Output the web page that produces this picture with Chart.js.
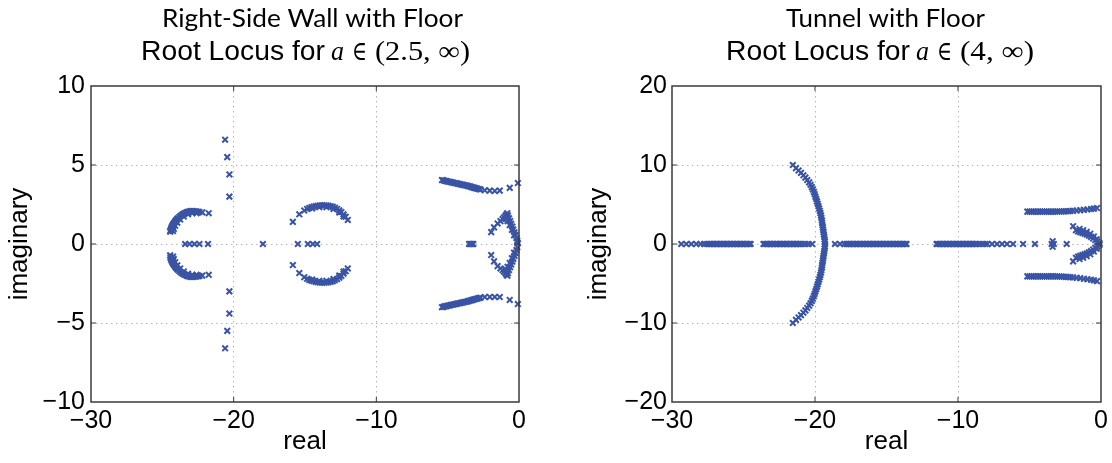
<!DOCTYPE html>
<html>
<head>
<meta charset="utf-8">
<script src="https://cdn.jsdelivr.net/npm/chart.js@4/dist/chart.umd.min.js"></script>
<style>
  html, body { margin: 0; padding: 0; background: #fff; }
  #wrap { position: relative; width: 1112px; height: 463px; }
  .panel { position: absolute; top: 0; width: 556px; height: 463px; }
</style>
</head>
<body>
<div id="wrap">
  <div class="panel" style="left:0"><canvas id="wall-chart" width="556" height="463"></canvas></div>
  <div class="panel" style="left:556px"><canvas id="tunnel-chart" width="556" height="463"></canvas></div>
</div>
<script>
/* ---- Right-Side Wall with Floor ---- */
// roots lying on the real axis (imaginary part 0)
const wallRealRoots = [
  -23.4, -23.1, -22.75, -22.4, -21.8, -17.95,
  -15.5, -14.8, -14.45, -14.15,
  -3.5, -3.42, -3.35, -3.28, -3.2
];
// complex roots [real, imaginary]
const wallOuterArc = [
  [-21.75, 1.95], [-22.2, 2.0], [-22.4, 2.03], [-22.5, 2.04], [-22.6, 2.05], [-22.7, 2.06],
  [-22.8, 2.07], [-22.9, 2.08], [-23.0, 2.08], [-23.1, 2.06], [-23.2, 2.04], [-23.3, 2.0],
  [-23.4, 1.96], [-23.5, 1.91], [-23.6, 1.86], [-23.7, 1.79], [-23.8, 1.72], [-23.9, 1.63],
  [-23.95, 1.58], [-24.0, 1.53], [-24.05, 1.48], [-24.1, 1.42], [-24.15, 1.36], [-24.2, 1.3],
  [-24.25, 1.23], [-24.28, 1.17], [-24.32, 1.1], [-24.35, 1.03], [-24.38, 0.96], [-24.4, 0.9],
  [-24.43, 0.84], [-24.45, 0.78],
  [-22.6, 1.95], [-22.9, 1.95], [-23.2, 1.88], [-23.5, 1.74], [-23.75, 1.55], [-23.95, 1.35],
  [-24.1, 1.15], [-24.2, 0.95], [-24.25, 0.82],
  [-21.75, -1.95], [-22.2, -2.0], [-22.4, -2.03], [-22.5, -2.04], [-22.6, -2.05], [-22.7, -2.06],
  [-22.8, -2.07], [-22.9, -2.08], [-23.0, -2.08], [-23.1, -2.06], [-23.2, -2.04], [-23.3, -2.0],
  [-23.4, -1.96], [-23.5, -1.91], [-23.6, -1.86], [-23.7, -1.79], [-23.8, -1.72], [-23.9, -1.63],
  [-23.95, -1.58], [-24.0, -1.53], [-24.05, -1.48], [-24.1, -1.42], [-24.15, -1.36], [-24.2, -1.3],
  [-24.25, -1.23], [-24.28, -1.17], [-24.32, -1.1], [-24.35, -1.03], [-24.38, -0.96], [-24.4, -0.9],
  [-24.43, -0.84], [-24.45, -0.72],
  [-22.6, -1.95], [-22.9, -1.95], [-23.2, -1.88], [-23.5, -1.74], [-23.75, -1.55], [-23.95, -1.35],
  [-24.1, -1.15], [-24.2, -0.95], [-24.25, -0.8]
];
const wallColumn = [
  [-20.6, 6.6], [-20.45, 5.5], [-20.3, 4.4], [-20.3, 3.0],
  [-20.3, -3.0], [-20.3, -4.4], [-20.45, -5.5], [-20.6, -6.6]
];
const wallMiddleArc = [
  [-15.85, 1.4], [-15.4, 1.88], [-15.05, 2.12], [-14.85, 2.22], [-14.7, 2.28], [-14.55, 2.33],
  [-14.4, 2.37], [-14.25, 2.4], [-14.1, 2.42], [-13.95, 2.44], [-13.8, 2.45], [-13.65, 2.45],
  [-13.5, 2.44], [-13.35, 2.42], [-13.2, 2.39], [-13.05, 2.35], [-12.9, 2.29], [-12.75, 2.22],
  [-12.6, 2.13], [-12.45, 2.02], [-12.3, 1.88], [-12.15, 1.72], [-12.0, 1.52],
  [-14.5, 2.25], [-14.0, 2.33], [-13.5, 2.33], [-13.0, 2.22], [-12.6, 2.0], [-12.3, 1.75],
  [-15.85, -1.33], [-15.4, -1.84], [-15.05, -2.1], [-14.85, -2.2], [-14.7, -2.27], [-14.55, -2.32],
  [-14.4, -2.36], [-14.25, -2.4], [-14.1, -2.42], [-13.95, -2.44], [-13.8, -2.45], [-13.65, -2.45],
  [-13.5, -2.44], [-13.35, -2.42], [-13.2, -2.39], [-13.05, -2.35], [-12.9, -2.29], [-12.75, -2.22],
  [-12.6, -2.13], [-12.45, -2.02], [-12.3, -1.88], [-12.15, -1.72], [-12.0, -1.55],
  [-14.5, -2.25], [-14.0, -2.33], [-13.5, -2.33], [-13.0, -2.22], [-12.6, -2.0], [-12.3, -1.75]
];
const wallRightLines = [
  [-5.4, 4.05], [-5.3, 4.03], [-5.2, 4.0], [-5.1, 3.98], [-5.0, 3.96], [-4.9, 3.94], [-4.8, 3.92],
  [-4.7, 3.9], [-4.6, 3.88], [-4.5, 3.86], [-4.4, 3.84], [-4.3, 3.82], [-4.2, 3.8], [-4.1, 3.78],
  [-4.0, 3.76], [-3.9, 3.74], [-3.8, 3.72], [-3.7, 3.7], [-3.6, 3.68], [-3.5, 3.65], [-3.4, 3.63],
  [-3.3, 3.6], [-3.2, 3.57], [-3.1, 3.55], [-3.0, 3.52], [-2.9, 3.5], [-2.8, 3.47], [-2.7, 3.45],
  [-2.4, 3.4], [-2.05, 3.38], [-1.7, 3.36], [-1.35, 3.38], [-0.65, 3.55], [-0.08, 3.86],
  [-5.4, -4.0], [-5.3, -3.98], [-5.2, -3.95], [-5.1, -3.93], [-5.0, -3.91], [-4.9, -3.89], [-4.8, -3.87],
  [-4.7, -3.85], [-4.6, -3.83], [-4.5, -3.81], [-4.4, -3.79], [-4.3, -3.77], [-4.2, -3.75], [-4.1, -3.73],
  [-4.0, -3.71], [-3.9, -3.69], [-3.8, -3.67], [-3.7, -3.65], [-3.6, -3.63], [-3.5, -3.6], [-3.4, -3.58],
  [-3.3, -3.55], [-3.2, -3.52], [-3.1, -3.5], [-3.0, -3.47], [-2.9, -3.45], [-2.8, -3.42], [-2.7, -3.4],
  [-2.4, -3.36], [-2.05, -3.35], [-1.7, -3.35], [-1.35, -3.36], [-0.65, -3.54], [-0.08, -3.8]
];
const wallRightV = [
  [-1.95, 0.75], [-1.75, 1.05], [-1.5, 1.3], [-1.3, 1.45], [-1.15, 1.58], [-1.05, 1.68],
  [-0.95, 1.78], [-0.88, 1.88], [-0.82, 1.95], [-0.78, 1.8], [-0.7, 1.62], [-0.62, 1.45],
  [-0.55, 1.28], [-0.47, 1.1], [-0.4, 0.92], [-0.32, 0.74], [-0.25, 0.56], [-0.18, 0.38],
  [-0.12, 0.2], [-0.07, 0.05], [-0.95, 1.6], [-0.8, 1.45], [-0.65, 1.2], [-0.5, 0.9], [-0.35, 0.55],
  [-1.95, -0.7], [-1.75, -1.1], [-1.5, -1.4], [-1.3, -1.55], [-1.15, -1.65], [-1.05, -1.75],
  [-0.95, -1.85], [-0.88, -1.95], [-0.82, -2.0], [-0.78, -1.85], [-0.7, -1.65], [-0.62, -1.47],
  [-0.55, -1.3], [-0.47, -1.12], [-0.4, -0.94], [-0.32, -0.75], [-0.25, -0.57], [-0.18, -0.38],
  [-0.12, -0.2], [-0.95, -1.6], [-0.8, -1.45], [-0.65, -1.2], [-0.5, -0.9], [-0.35, -0.55]
];

/* ---- Tunnel with Floor ---- */
const tunnelRealRoots = [
  -29.35, -29.0, -28.65, -28.3, -28.0, -27.75, -27.55, -27.4, -27.3, -27.2, -27.1, -27.0, -26.9,
  -26.8, -26.7, -26.6, -26.5, -26.4, -26.3, -26.2, -26.1, -26.0, -25.9, -25.8, -25.7, -25.6,
  -25.5, -25.4, -25.3, -25.2, -25.1, -25.0, -24.9, -24.8, -24.7, -24.6, -24.5,
  -23.6, -23.5, -23.4, -23.3, -23.2, -23.1, -23.0, -22.9, -22.8, -22.7, -22.6, -22.5, -22.4,
  -22.3, -22.2, -22.1, -22.0, -21.9, -21.8, -21.7, -21.6, -21.5, -21.4, -21.3, -21.2, -21.1,
  -21.0, -20.85, -20.65, -20.45, -20.2,
  -18.6, -18.25, -17.95, -17.8, -17.7, -17.6, -17.5, -17.4, -17.3, -17.2, -17.1, -17.0, -16.9,
  -16.8, -16.7, -16.6, -16.5, -16.4, -16.3, -16.2, -16.1, -16.0, -15.9, -15.8, -15.7, -15.6,
  -15.5, -15.4, -15.3, -15.2, -15.1, -15.0, -14.9, -14.8, -14.7, -14.6, -14.5, -14.4, -14.3,
  -14.2, -14.1, -14.0, -13.9, -13.8, -13.7, -13.6,
  -11.5, -11.4, -11.3, -11.2, -11.1, -11.0, -10.9, -10.8, -10.7, -10.6, -10.5, -10.4, -10.3,
  -10.2, -10.1, -10.0, -9.9, -9.8, -9.7, -9.6, -9.5, -9.4, -9.3, -9.2, -9.1, -9.0, -8.9, -8.8,
  -8.7, -8.5, -8.3, -8.1, -7.95, -7.62, -7.27, -6.92, -6.57, -6.15, -5.45, -4.62,
  -3.45, -3.3, -2.4
];
const tunnelArc = [
  [-19.3, 0], [-19.31, 0.3], [-19.33, 0.6], [-19.35, 0.9], [-19.38, 1.2], [-19.4, 1.5],
  [-19.43, 1.8], [-19.45, 2.1], [-19.48, 2.4], [-19.5, 2.7], [-19.52, 3.0], [-19.55, 3.3],
  [-19.58, 3.6], [-19.62, 3.9], [-19.66, 4.2], [-19.71, 4.5], [-19.76, 4.8], [-19.81, 5.1],
  [-19.86, 5.4], [-19.91, 5.7], [-19.97, 6.0], [-20.02, 6.3], [-20.08, 6.6], [-20.15, 6.9],
  [-20.22, 7.2], [-20.31, 7.5], [-20.41, 7.8], [-20.54, 8.1], [-20.67, 8.4], [-20.81, 8.7],
  [-20.98, 9.0], [-21.15, 9.3], [-21.33, 9.6], [-21.55, 10.0],
  [-19.31, -0.3], [-19.33, -0.6], [-19.35, -0.9], [-19.38, -1.2], [-19.4, -1.5],
  [-19.43, -1.8], [-19.45, -2.1], [-19.48, -2.4], [-19.5, -2.7], [-19.52, -3.0], [-19.55, -3.3],
  [-19.58, -3.6], [-19.62, -3.9], [-19.66, -4.2], [-19.71, -4.5], [-19.76, -4.8], [-19.81, -5.1],
  [-19.86, -5.4], [-19.91, -5.7], [-19.97, -6.0], [-20.02, -6.3], [-20.08, -6.6], [-20.15, -6.9],
  [-20.22, -7.2], [-20.31, -7.5], [-20.41, -7.8], [-20.54, -8.1], [-20.67, -8.4], [-20.81, -8.7],
  [-20.98, -9.0], [-21.15, -9.3], [-21.33, -9.6], [-21.55, -10.0]
];
const tunnelStar = [[-3.38, 0.35], [-3.38, -0.35]];
const tunnelLines = [
  [-5.15, 4.1], [-5.0, 4.1], [-4.85, 4.1], [-4.7, 4.1], [-4.55, 4.1], [-4.4, 4.1], [-4.25, 4.1],
  [-4.1, 4.1], [-3.95, 4.1], [-3.8, 4.1], [-3.65, 4.1], [-3.5, 4.1], [-3.35, 4.1], [-3.2, 4.1],
  [-3.05, 4.11], [-2.9, 4.12], [-2.75, 4.12], [-2.6, 4.13], [-2.45, 4.14], [-2.3, 4.15],
  [-2.15, 4.17], [-1.95, 4.2], [-1.7, 4.24], [-1.45, 4.28], [-1.2, 4.32], [-0.95, 4.37],
  [-0.7, 4.42], [-0.5, 4.48], [-0.28, 4.55],
  [-5.15, -4.1], [-5.0, -4.1], [-4.85, -4.1], [-4.7, -4.1], [-4.55, -4.1], [-4.4, -4.1], [-4.25, -4.1],
  [-4.1, -4.1], [-3.95, -4.1], [-3.8, -4.1], [-3.65, -4.1], [-3.5, -4.1], [-3.35, -4.1], [-3.2, -4.1],
  [-3.05, -4.11], [-2.9, -4.12], [-2.75, -4.13], [-2.6, -4.14], [-2.45, -4.16], [-2.3, -4.18],
  [-2.15, -4.2], [-1.95, -4.23], [-1.7, -4.28], [-1.45, -4.33], [-1.2, -4.4], [-0.95, -4.46],
  [-0.7, -4.52], [-0.5, -4.6], [-0.28, -4.7]
];
const tunnelV = [
  [-1.95, 2.25], [-1.75, 1.75], [-1.6, 1.6], [-1.45, 1.5], [-1.3, 1.4], [-1.15, 1.3], [-1.0, 1.2],
  [-0.85, 1.05], [-0.7, 0.9], [-0.55, 0.7], [-0.4, 0.5], [-0.25, 0.3], [-0.1, 0.1],
  [-1.5, 1.9], [-1.25, 1.75], [-1.0, 1.55], [-0.75, 1.3], [-0.5, 0.95], [-0.3, 0.6],
  [-1.95, -2.2], [-1.75, -1.75], [-1.6, -1.6], [-1.45, -1.5], [-1.3, -1.4], [-1.15, -1.3], [-1.0, -1.2],
  [-0.85, -1.05], [-0.7, -0.9], [-0.55, -0.7], [-0.4, -0.5], [-0.25, -0.3], [-0.1, -0.1],
  [-1.5, -1.9], [-1.25, -1.75], [-1.0, -1.55], [-0.75, -1.3], [-0.5, -0.95], [-0.3, -0.6]
];

/* ---- Tick labels ---- */
const realTicks = [-30, -20, -10, 0];
const wallImagTicks = [-10, -5, 0, 5, 10];
const tunnelImagTicks = [-20, -10, 0, 10, 20];

// --- Style tokens ---
const MARKER = 'rgb(58, 84, 165)';
const GRID = '#b4b4b4';
const FRAME = '#3a3a3a';
const SANS = "'Liberation Sans', Arial, Helvetica, sans-serif";
const SERIF = "'Liberation Serif', 'DejaVu Serif', serif";

const toPoints = (realRoots, groups) =>
    realRoots.map(re => ({ x: re, y: 0 }))
        .concat(groups.flat().map(([re, im]) => ({ x: re, y: im })));
const minusSign = v => String(v).replace('-', '\u2212');

// draw text squeezed/stretched horizontally to a given width
function fitText(ctx, text, font, x, y, width) {
    ctx.font = font;
    const natural = ctx.measureText(text).width;
    ctx.save();
    ctx.translate(x, y);
    ctx.scale(width / natural, 1);
    ctx.fillText(text, 0, 0);
    ctx.restore();
}

// Two-line title; second line ends in math "a ∈ (…, ∞)"
const locusTitle = {
    id: 'locusTitle',
    afterDraw(chart, args, o) {
        const { ctx } = chart;
        ctx.save();
        ctx.fillStyle = '#000';
        ctx.textBaseline = 'alphabetic';
        ctx.textAlign = 'left';
        fitText(ctx, o.heading, "25px Lato, 'Open Sans', sans-serif", o.headX, 27, o.headW);
        fitText(ctx, 'Root Locus for', '27px ' + SANS, o.subX, 60, 184);
        const mathFont = '27px ' + SERIF;
        let x = o.subX + 190;
        fitText(ctx, 'a', 'italic ' + mathFont, x, 60, 13);
        x += 21;
        fitText(ctx, '\u2208', mathFont, x, 60, 15);
        x += 23;
        fitText(ctx, '(' + o.interval + ', \u221E)', mathFont, x, 60, o.restW);
        ctx.restore();
    }
};

// Box around the axes plus small inward tick marks
const axesBox = {
    id: 'axesBox',
    afterDraw(chart) {
        const { ctx, chartArea: a, scales } = chart;
        ctx.save();
        ctx.strokeStyle = FRAME;
        ctx.lineWidth = 1.5;
        ctx.strokeRect(a.left, a.top, a.right - a.left, a.bottom - a.top);
        ctx.lineWidth = 1;
        ctx.beginPath();
        scales.x.ticks.forEach(t => {
            const px = scales.x.getPixelForValue(t.value);
            if (px <= a.left + 1 || px >= a.right - 1) return;
            ctx.moveTo(px, a.bottom); ctx.lineTo(px, a.bottom - 5);
            ctx.moveTo(px, a.top); ctx.lineTo(px, a.top + 5);
        });
        scales.y.ticks.forEach(t => {
            const py = scales.y.getPixelForValue(t.value);
            if (py <= a.top + 1 || py >= a.bottom - 1) return;
            ctx.moveTo(a.left, py); ctx.lineTo(a.left + 5, py);
            ctx.moveTo(a.right, py); ctx.lineTo(a.right - 5, py);
        });
        ctx.stroke();
        ctx.restore();
    }
};

const interiorGrid = c => {
    const n = c.scale.ticks.length;
    return (c.index === 0 || c.index === n - 1) ? 'rgba(0,0,0,0)' : GRID;
};

function makeChart(id, cfg) {
    const ctx = document.getElementById(id).getContext('2d');
    return new Chart(ctx, {
        type: 'scatter',
        data: {
            datasets: [{
                data: toPoints(cfg.realRoots, cfg.groups),
                showLine: false,
                pointStyle: 'crossRot',
                pointRadius: 4,
                pointBorderWidth: 2,
                borderColor: MARKER,
                backgroundColor: MARKER,
                clip: false
            }]
        },
        options: {
            responsive: false,
            devicePixelRatio: 1,
            animation: false,
            layout: { padding: { top: 86, right: cfg.padRight, bottom: 0, left: 0 } },
            plugins: {
                legend: { display: false },
                tooltip: { enabled: false },
                locusTitle: cfg.title
            },
            scales: {
                x: {
                    type: 'linear',
                    min: -30, max: 0,
                    afterBuildTicks: s => { s.ticks = realTicks.map(v => ({ value: v })); },
                    afterFit: s => { s.height = 61; },
                    grid: { color: interiorGrid, lineWidth: 1, drawTicks: false },
                    border: { display: false, dash: [1.5, 3.5] },
                    ticks: {
                        color: '#000', padding: 4, maxRotation: 0, autoSkip: false,
                        font: { family: SANS, size: 25, lineHeight: 1.2 },
                        callback: minusSign
                    },
                    title: {
                        display: true, text: 'real', color: '#000',
                        font: { family: SANS, size: 26, lineHeight: 1.2 },
                        padding: { top: 0, bottom: 6 }
                    }
                },
                y: {
                    type: 'linear',
                    min: cfg.imagTicks[0], max: cfg.imagTicks[cfg.imagTicks.length - 1],
                    afterBuildTicks: s => { s.ticks = cfg.imagTicks.map(v => ({ value: v })); },
                    afterFit: s => { s.width = cfg.yWidth; },
                    grid: { color: interiorGrid, lineWidth: 1, drawTicks: false },
                    border: { display: false, dash: [1.5, 3.5] },
                    ticks: {
                        color: '#000', padding: cfg.yTickPad, autoSkip: false,
                        font: { family: SANS, size: 25, lineHeight: 1.2 },
                        callback: minusSign
                    },
                    title: {
                        display: true, text: 'imaginary', color: '#000',
                        font: { family: SANS, size: 26, lineHeight: 1.2 },
                        padding: { top: cfg.yTitlePad, bottom: 0 }
                    }
                }
            }
        },
        plugins: [locusTitle, axesBox]
    });
}

document.addEventListener('DOMContentLoaded', () => {
    makeChart('wall-chart', {
        realRoots: wallRealRoots,
        groups: [wallOuterArc, wallColumn, wallMiddleArc, wallRightLines, wallRightV],
        imagTicks: wallImagTicks,
        title: { heading: 'Right-Side Wall with Floor', headX: 162, headW: 301, subX: 141, restW: 95, interval: '2.5' },
        yWidth: 91, padRight: 37, yTickPad: 6, yTitlePad: 4
    });
    makeChart('tunnel-chart', {
        realRoots: tunnelRealRoots,
        groups: [tunnelArc, tunnelStar, tunnelLines, tunnelV],
        imagTicks: tunnelImagTicks,
        title: { heading: 'Tunnel with Floor', headX: 230, headW: 199, subX: 170, restW: 74, interval: '4' },
        yWidth: 116, padRight: 11, yTickPad: 5, yTitlePad: 27
    });
});
</script>
</body>
</html>
